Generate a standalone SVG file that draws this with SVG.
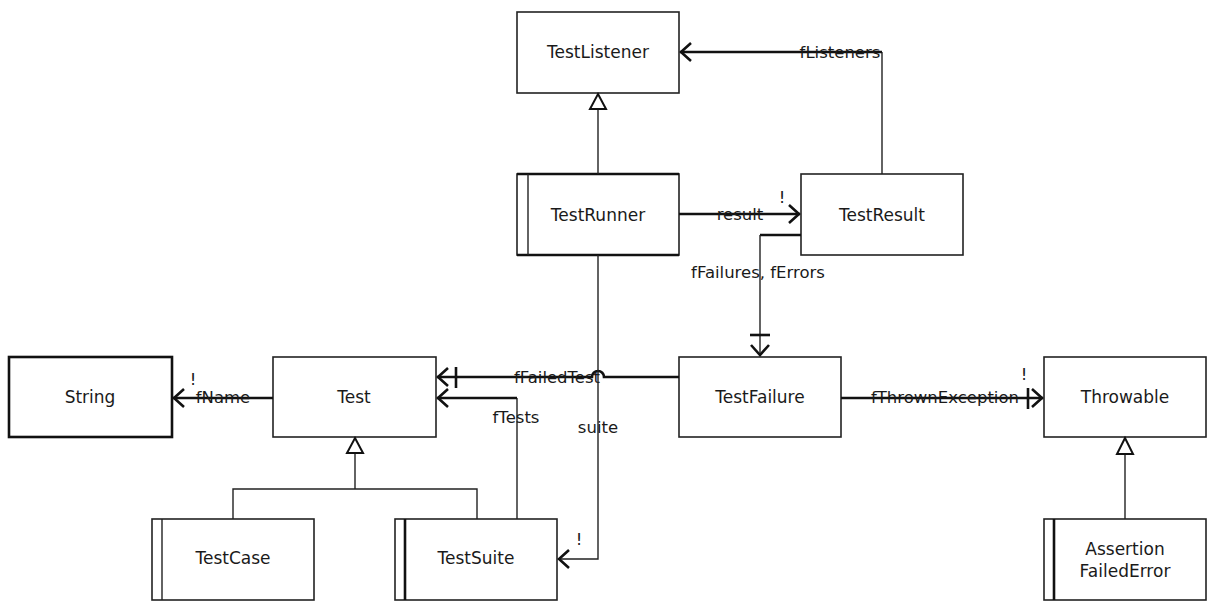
<svg xmlns="http://www.w3.org/2000/svg" width="1209" height="602" viewBox="0 0 1209 602">
<defs>
<style>
.box{fill:#fff;stroke:#222;stroke-width:1.6}
.bold{fill:none;stroke:#111;stroke-width:2.6}
.name{font-family:"DejaVu Sans","Liberation Sans",sans-serif;font-size:17px;fill:#1a1a1a;text-anchor:middle}
.lbl{font-family:"DejaVu Sans","Liberation Sans",sans-serif;font-size:16.5px;fill:#1a1a1a}
.thin{fill:none;stroke:#222;stroke-width:1.4}
.thick{fill:none;stroke:#111;stroke-width:2.6}
.tri{fill:#fff;stroke:#111;stroke-width:2}
</style>
<marker id="open" markerUnits="userSpaceOnUse" markerWidth="24" markerHeight="24" viewBox="-12 -12 24 24" refX="0" refY="0" orient="auto">
<path d="M -11 -9 L -1 0 L -11 9" fill="none" stroke="#111" stroke-width="2.6"/>
</marker>
</defs>
<g id="TestListener"><rect class="box" x="517" y="12" width="162" height="81"/><text class="name" x="598" y="58">TestListener</text></g>
<g id="TestRunner"><rect class="box" x="517" y="174" width="162" height="81"/><line class="bold" x1="517" y1="174" x2="679" y2="174"/><line class="bold" x1="517" y1="255" x2="679" y2="255"/><line class="thin" x1="528" y1="174" x2="528" y2="255"/><text class="name" x="598" y="221">TestRunner</text></g>
<g id="TestResult"><rect class="box" x="801" y="174" width="162" height="81"/><text class="name" x="882" y="221">TestResult</text></g>
<g id="String"><rect class="box" style="stroke-width:2.6;stroke:#111" x="9" y="357" width="163" height="80"/><text class="name" x="90" y="403">String</text></g>
<g id="Test"><rect class="box" x="273" y="357" width="163" height="80"/><text class="name" x="354" y="403">Test</text></g>
<g id="TestFailure"><rect class="box" x="679" y="357" width="162" height="80"/><text class="name" x="760" y="403">TestFailure</text></g>
<g id="Throwable"><rect class="box" x="1044" y="357" width="162" height="80"/><text class="name" x="1125" y="403">Throwable</text></g>
<g id="TestCase"><rect class="box" x="152" y="519" width="162" height="81"/><line class="thin" x1="162" y1="519" x2="162" y2="600"/><text class="name" x="233" y="564">TestCase</text></g>
<g id="TestSuite"><rect class="box" x="395" y="519" width="162" height="81"/><line class="bold" x1="405" y1="519" x2="405" y2="600"/><text class="name" x="476" y="564">TestSuite</text></g>
<g id="AssertionFailedError"><rect class="box" x="1044" y="519" width="162" height="81"/><line class="bold" x1="1054" y1="519" x2="1054" y2="600"/><text class="name" x="1125" y="555">Assertion</text><text class="name" x="1125" y="577">FailedError</text></g>
<g id="connectors">
<line class="thin" x1="598" y1="174" x2="598" y2="109"/>
<path class="tri" d="M598 94 L606 109 L590 109 Z"/>
<path class="thin" d="M882 174 L882 52"/>
<path class="thick" d="M882 52 L680 52" marker-end="url(#open)"/>
<text class="lbl" x="840" y="58" text-anchor="middle">fListeners</text>
<path class="thick" d="M679 214 L800 214" marker-end="url(#open)"/>
<text class="lbl" x="740" y="220" text-anchor="middle">result</text>
<text class="lbl" x="782" y="203" text-anchor="middle">!</text>
<path class="thick" d="M801 235 L760 235"/>
<path class="thin" d="M760 235 L760 356" marker-end="url(#open)"/>
<line class="thick" x1="750" y1="335" x2="770" y2="335"/>
<text class="lbl" x="758" y="278" text-anchor="middle">fFailures, fErrors</text>
<path class="thick" d="M679 377 L604 377 A 6 6 0 0 0 592 377 L437 377" marker-end="url(#open)"/>
<line class="thick" x1="456" y1="367" x2="456" y2="388"/>
<text class="lbl" x="557" y="383" text-anchor="middle">fFailedTest</text>
<path class="thin" d="M517 519 L517 398"/>
<path class="thick" d="M517 398 L437 398" marker-end="url(#open)"/>
<text class="lbl" x="516" y="423" text-anchor="middle">fTests</text>
<path class="thin" d="M598 255 L598 559 L558 559" marker-end="url(#open)"/>
<text class="lbl" x="598" y="433" text-anchor="middle">suite</text>
<text class="lbl" x="579" y="545" text-anchor="middle">!</text>
<path class="thick" d="M273 398 L173 398" marker-end="url(#open)"/>
<text class="lbl" x="223" y="403" text-anchor="middle">fName</text>
<text class="lbl" x="193" y="385" text-anchor="middle">!</text>
<path class="thick" d="M841 398 L1043 398" marker-end="url(#open)"/>
<line class="thick" x1="1028" y1="388" x2="1028" y2="409"/>
<text class="lbl" x="945" y="403" text-anchor="middle">fThrownException</text>
<text class="lbl" x="1024" y="380" text-anchor="middle">!</text>
<path class="thin" d="M233 519 L233 489 L477 489 L477 519"/>
<line class="thin" x1="355" y1="489" x2="355" y2="453"/>
<path class="tri" d="M355 438 L363 453 L347 453 Z"/>
<line class="thin" x1="1125" y1="519" x2="1125" y2="454"/>
<path class="tri" d="M1125 438 L1133 454 L1117 454 Z"/>
</g>
</svg>
